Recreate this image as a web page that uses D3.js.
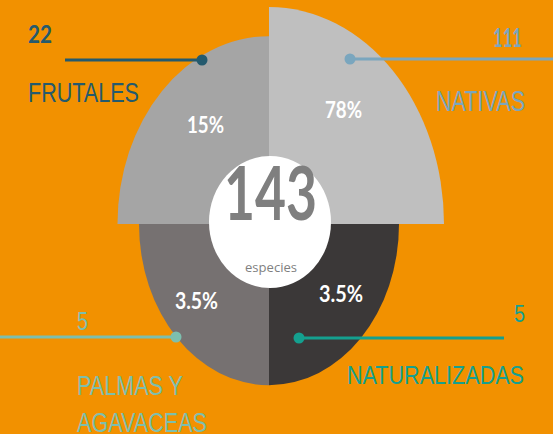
<!DOCTYPE html>
<html>
<head>
<meta charset="utf-8">
<script src="https://cdn.jsdelivr.net/npm/d3@7"></script>
<style>
  html, body { margin: 0; padding: 0; background: #F29100; overflow: hidden; }
  svg { display: block; }
</style>
</head>
<body>
<svg id="chart" width="553" height="434"></svg>
<script>
// ---- data ----
const categories = ["NATIVAS", "NATURALIZADAS", "PALMAS Y AGAVACEAS", "FRUTALES"];
const counts = [111, 5, 5, 22];
const percentLabels = ["78%", "3.5%", "3.5%", "15%"];
const totalLabel = "143";
const totalUnit = "especies";

// ---- styles ----
const sliceColors = ["#BFBFBF", "#3B3838", "#767171", "#A5A5A5"];
const labelColors = ["#7AA6BE", "#14A08F", "#7DBFAE", "#245A6E"];

const svg = d3.select("#chart");
const W = 553, H = 434;
svg.append("rect").attr("width", W).attr("height", H).attr("fill", "#F29100");

const cx = 269, cy = 224, yStretch = 1.24;

const r = d3.scaleLog().domain([5, 111]).range([130, 175]);
const angle = d3.scaleBand().domain(categories).range([0, 2 * Math.PI]);

const arc = d3.arc()
  .innerRadius(0)
  .outerRadius(d => r(d.value))
  .startAngle(d => angle(d.cat))
  .endAngle(d => angle(d.cat) + angle.bandwidth());

const data = categories.map((c, i) => ({ cat: c, value: counts[i], color: sliceColors[i] }));

const g = svg.append("g").attr("transform", `translate(${cx},${cy}) scale(1,${yStretch})`);
g.selectAll("path").data(data).join("path")
  .attr("d", arc)
  .attr("fill", d => d.color);

// center ellipse
svg.append("ellipse")
  .attr("cx", 270).attr("cy", 222).attr("rx", 61).attr("ry", 66)
  .attr("fill", "#FFFFFF");

svg.append("text")
  .attr("x", 224).attr("y", 220)
  .attr("font-family", "Lato, 'Open Sans', sans-serif")
  .attr("font-weight", 700).attr("font-size", 75)
  .attr("fill", "#7F7F7F")
  .attr("textLength", 93).attr("lengthAdjust", "spacingAndGlyphs")
  .text(totalLabel);

svg.append("text")
  .attr("x", 271).attr("y", 272)
  .attr("text-anchor", "middle")
  .attr("font-family", "'Open Sans', Lato, sans-serif")
  .attr("font-size", 13)
  .attr("fill", "#7F7F7F")
  .attr("textLength", 52).attr("lengthAdjust", "spacingAndGlyphs")
  .text(totalUnit);

// percent labels
const pctPos = [
  { x: 325, y: 118, w: 37 },
  { x: 319, y: 302, w: 44 },
  { x: 175, y: 309, w: 43 },
  { x: 187, y: 133, w: 37 }
];
svg.selectAll("text.pct").data(percentLabels).join("text")
  .attr("class", "pct")
  .attr("x", (d, i) => pctPos[i].x).attr("y", (d, i) => pctPos[i].y)
  .attr("font-family", "Lato, 'Open Sans', sans-serif")
  .attr("font-weight", 700).attr("font-size", 22)
  .attr("fill", "#FFFFFF")
  .attr("textLength", (d, i) => pctPos[i].w).attr("lengthAdjust", "spacingAndGlyphs")
  .text(d => d);

// leader lines + dots
const leaders = [
  { x1: 350, x2: 553, y: 59, dot: 350 },
  { x1: 299, x2: 504, y: 338, dot: 299 },
  { x1: 0, x2: 176, y: 337, dot: 176 },
  { x1: 65, x2: 202, y: 60, dot: 202 }
];
leaders.forEach((l, i) => {
  svg.append("line").attr("x1", l.x1).attr("x2", l.x2).attr("y1", l.y).attr("y2", l.y)
    .attr("stroke", labelColors[i]).attr("stroke-width", 3);
  svg.append("circle").attr("cx", l.dot).attr("cy", l.y).attr("r", 5.5)
    .attr("fill", labelColors[i]);
});

// count labels
const countPos = [
  { x: 493, y: 47, w: 29, size: 27, bold: true },
  { x: 514, y: 322, w: 11, size: 24, bold: false },
  { x: 77, y: 330, w: 11, size: 25, bold: false },
  { x: 28, y: 43, w: 24, size: 25, bold: true }
];
counts.forEach((c, i) => {
  const p = countPos[i];
  svg.append("text")
    .attr("x", p.x).attr("y", p.y)
    .attr("font-family", p.bold ? "Lato, 'Open Sans', sans-serif" : "'Liberation Sans', Arial, sans-serif")
    .attr("font-weight", p.bold ? 700 : 400)
    .attr("font-size", p.size)
    .attr("fill", labelColors[i])
    .attr("textLength", p.w).attr("lengthAdjust", "spacingAndGlyphs")
    .text(String(c));
});

// category names
const namePos = [
  [{ t: "NATIVAS", x: 436, y: 111, w: 89, size: 29 }],
  [{ t: "NATURALIZADAS", x: 347, y: 384, w: 177, size: 25 }],
  [{ t: "PALMAS Y", x: 77, y: 395, w: 106, size: 27 },
   { t: "AGAVACEAS", x: 77, y: 432, w: 130, size: 27 }],
  [{ t: "FRUTALES", x: 28, y: 102, w: 111, size: 28 }]
];
categories.forEach((c, i) => {
  namePos[i].forEach(p => {
    svg.append("text")
      .attr("x", p.x).attr("y", p.y)
      .attr("font-family", "'Liberation Sans', Arial, sans-serif")
      .attr("font-size", p.size)
      .attr("fill", labelColors[i])
      .attr("textLength", p.w).attr("lengthAdjust", "spacingAndGlyphs")
      .text(p.t);
  });
});
</script>
</body>
</html>
